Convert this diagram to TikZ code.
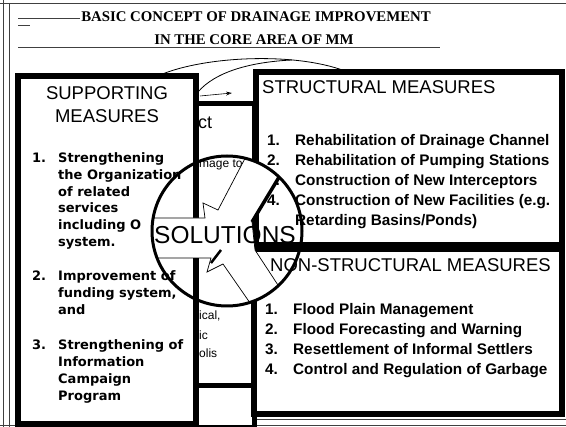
\documentclass[tikz,border=0pt]{standalone}
\usepackage{fontspec}
\setmainfont{Liberation Sans}
\newfontfamily\titlefont{Liberation Serif}
\newfontfamily\supfont{DejaVu Sans}
\usetikzlibrary{arrows.meta}
\newcommand{\fsz}[1]{\fontsize{#1}{#1}\selectfont}
\begin{document}
\begin{tikzpicture}[x=1pt,y=-1pt,
  frameline/.style={line width=0.6pt, black!75},
  titletext/.style={font=\titlefont\bfseries\fsz{14.8pt}, inner sep=1pt, fill=white, anchor=base},
  boxthick/.style={line width=5.5pt, fill=white},
  hidbox/.style={line width=5pt},
  suphead/.style={font=\fsz{18.5pt}, inner sep=0pt, anchor=base},
  supitem/.style={font=\supfont\bfseries\fsz{13pt}, anchor=base west, inner sep=0pt},
  measitem/.style={font=\bfseries\fsz{15.3pt}, anchor=base west, inner sep=0pt},
  headtext/.style={font=\fsz{18.5pt}, anchor=base west, inner sep=0pt},
  hidtext/.style={font=\fsz{12pt}, anchor=base west, inner sep=0pt},
  soltext/.style={font=\fsz{24.5pt}, inner sep=0pt},
  arcline/.style={line width=0.8pt},
]
\useasboundingbox (0,0) rectangle (566,427);
\fill[white] (0,0) rectangle (566,427);

% outer frame
\draw[frameline] (0,3) -- (566,3);
\draw[frameline] (3,0) -- (3,427);
\draw[frameline] (9,3) -- (9,427);
\draw[frameline] (0,425) -- (566,425);
\draw[frameline] (254,419) -- (566,419);

% title rules
\draw[frameline] (18,18) -- (80,18);
\draw[frameline] (18,25) -- (30,25);
\draw[frameline] (18,47) -- (440,47);
\node[titletext] (t1) at (256,22) {BASIC CONCEPT OF DRAINAGE IMPROVEMENT};
\node[titletext] (t2) at (254,45) {IN THE CORE AREA OF MM};

% arcs at the top
\coordinate (a1) at (160,75);
\coordinate (a2) at (345,71);
\coordinate (b1) at (198,92);
\coordinate (b2) at (292,60);
\draw[arcline] (a1) .. controls (205,56) and (295,52) .. (a2);
\draw[arcline] (b1) .. controls (215,72) and (250,62) .. (b2);

% hidden box behind
\draw[hidbox] (150,104) rectangle (254,386);
\draw[hidbox] (150,386) rectangle (254,428);
\coordinate (h1) at (200,96);
\coordinate (h2) at (232,93);
\draw[line width=0.6pt, -{Stealth[open,length=6pt,width=4pt]}] (h1) -- (h2);
\node[font=\fsz{18pt}, anchor=base west, inner sep=0pt] (hct) at (198,129) {ct};
\node[hidtext] (hmg) at (199,168) {mage to};
\node[hidtext] (hic1) at (199,320) {ical,};
\node[hidtext] (hic2) at (199,340) {ic};
\node[hidtext] (hol) at (199,358) {olis};

% supporting box
\draw[boxthick, line width=6pt] (18,76) rectangle (196,424);
\node[suphead] (sh1) at (107,100) {SUPPORTING};
\node[suphead] (sh2) at (107,123) {MEASURES};
\node[supitem] (sn1) at (32,163) {1.};
\node[supitem] (s11) at (58,163) {Strengthening};
\node[supitem] (s12) at (58,180) {the Organization};
\node[supitem] (s13) at (58,197) {of related};
\node[supitem] (s14) at (58,213) {services};
\node[supitem] (s15) at (58,230) {including O};
\node[supitem] (s16) at (58,247) {system.};
\node[supitem] (sn2) at (32,281) {2.};
\node[supitem] (s21) at (58,281) {Improvement of};
\node[supitem] (s22) at (58,298) {funding system,};
\node[supitem] (s23) at (58,315) {and};
\node[supitem] (sn3) at (32,350) {3.};
\node[supitem] (s31) at (58,350) {Strengthening of};
\node[supitem] (s32) at (58,367) {Information};
\node[supitem] (s33) at (58,384) {Campaign};
\node[supitem] (s34) at (58,401) {Program};

% structural box
\draw[boxthick] (256,72) rectangle (562,245);
\node[headtext] (sth) at (262,94) {STRUCTURAL MEASURES};
\node[measitem] (stn1) at (267,146) {1.};
\node[measitem] (st1) at (295,146) {Rehabilitation of Drainage Channel};
\node[measitem] (stn2) at (267,166) {2.};
\node[measitem] (st2) at (295,166) {Rehabilitation of Pumping Stations};
\node[measitem] (stn3) at (267,186) {3.};
\node[measitem] (st3) at (295,186) {Construction of New Interceptors};
\node[measitem] (stn4) at (267,206) {4.};
\node[measitem] (st4) at (295,206) {Construction of New Facilities (e.g.};
\node[measitem] (st5) at (295,226) {Retarding Basins/Ponds)};

% non-structural box
\draw[boxthick] (254,249) rectangle (562,414);
\node[headtext] (nsh) at (270,272) {NON-STRUCTURAL MEASURES};
\node[measitem] (nsn1) at (265,315) {1.};
\node[measitem] (ns1) at (293,315) {Flood Plain Management};
\node[measitem] (nsn2) at (265,335) {2.};
\node[measitem] (ns2) at (293,335) {Flood Forecasting and Warning};
\node[measitem] (nsn3) at (265,355) {3.};
\node[measitem] (ns3) at (293,355) {Resettlement of Informal Settlers};
\node[measitem] (nsn4) at (265,375) {4.};
\node[measitem] (ns4) at (293,375) {Control and Regulation of Garbage};

% SOLUTIONS emblem
\coordinate (cc) at (227,231);
\begin{scope}
  \clip (cc) circle[radius=75pt];
  \path[fill=white, draw=black, line width=0.7pt]
    (140,218) -- (205,218) -- (203,203) -- (218,210) -- (251,147) -- (290,159)
    -- (252,222) -- (255,250) -- (293,308) -- (257,313) -- (223,264)
    -- (207,272) -- (211,258) -- (140,258) -- cycle;
  \draw[line width=3.5pt] (290,159) -- (252,222);
  \draw[line width=2.5pt] (221,250) -- (211,263);
\end{scope}
\draw[line width=3pt] (cc) circle[radius=75pt];
\node[soltext] (sol) at (225,235) {SOLUTIONS};
\end{tikzpicture}
\end{document}
